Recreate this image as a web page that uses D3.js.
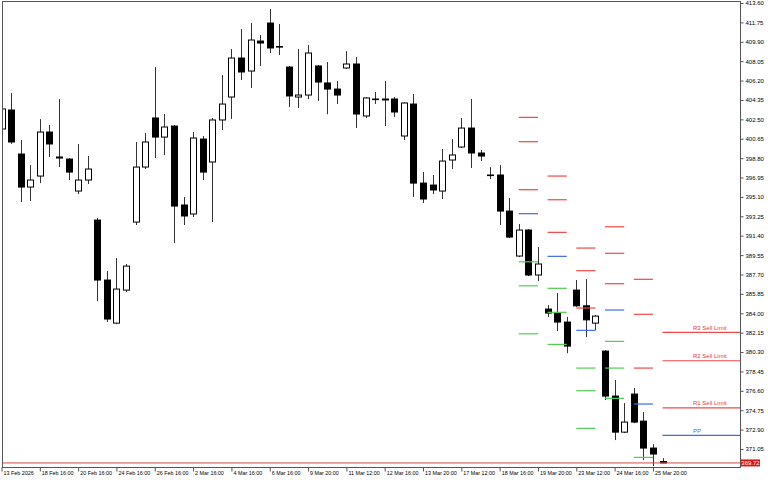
<!DOCTYPE html>
<html>
<head>
<meta charset="utf-8">
<script src="https://d3js.org/d3.v7.min.js"></script>
<style>
  body { margin: 0; background: #fff; }
  svg { display: block; }
  text { font-family: "Liberation Sans", Arial, sans-serif; font-size: 6px; }
</style>
</head>
<body>
<svg></svg>
<script>
// H4 candles, oldest first
var opens = [401.58, 403.39, 399.19, 396.04, 397.09, 401.29, 398.91, 398.71, 395.66, 396.71,
  392.89, 387.17, 383.06, 386.21, 392.70, 397.95, 402.63, 400.81, 401.86, 394.33,
  393.47, 400.62, 398.43, 402.44, 404.63, 408.35, 407.11, 409.97, 411.69, 409.45,
  407.49, 404.63, 404.82, 407.59, 405.97, 405.39, 407.40, 407.78, 402.82, 404.44,
  404.44, 404.44, 400.91, 403.96, 396.42, 396.23, 395.66, 398.62, 399.86, 401.67,
  399.29, 397.19, 397.19, 393.75, 389.46, 391.94, 387.65, 384.40, 384.02, 383.16,
  386.21, 384.71, 383.06, 380.39, 376.10, 372.66, 376.29, 373.71, 371.14, 369.85];
var highs = [403.68, 405.01, 400.53, 398.14, 402.53, 401.96, 404.44, 398.80, 400.15, 399.00,
  393.08, 388.03, 389.27, 388.70, 400.34, 401.20, 407.49, 403.01, 401.96, 395.09,
  401.29, 400.91, 402.63, 406.73, 409.21, 411.12, 411.69, 410.55, 413.03, 411.60,
  407.59, 409.21, 409.59, 407.68, 407.97, 406.16, 409.02, 408.45, 404.63, 405.11,
  406.16, 404.63, 404.15, 404.92, 397.47, 397.19, 399.67, 400.62, 402.63, 404.44,
  399.57, 397.95, 398.14, 394.99, 392.51, 392.03, 390.32, 384.78, 385.93, 383.64,
  387.17, 387.26, 383.83, 380.49, 377.63, 375.43, 376.86, 374.57, 371.52, 370.18];
var lows = [401.39, 400.15, 394.61, 394.71, 396.42, 398.91, 397.95, 396.71, 395.37, 396.33,
  385.16, 383.16, 382.96, 386.02, 392.42, 397.76, 398.81, 399.10, 390.70, 392.42,
  393.18, 396.71, 392.70, 401.48, 402.53, 406.25, 405.49, 407.59, 408.83, 408.64,
  403.68, 403.58, 404.44, 404.25, 402.99, 403.96, 407.30, 401.67, 402.63, 403.96,
  401.86, 402.72, 400.53, 395.09, 394.52, 395.37, 394.90, 397.76, 399.76, 397.86,
  398.52, 396.81, 392.42, 391.18, 389.36, 387.55, 387.07, 383.64, 382.30, 380.20,
  384.61, 381.73, 382.39, 375.72, 371.90, 372.57, 373.52, 369.99, 369.42, 369.70];
var closes = [403.49, 400.34, 396.04, 396.71, 401.29, 400.15, 398.81, 397.47, 396.71, 397.76,
  387.17, 383.45, 386.31, 388.50, 397.95, 400.34, 400.81, 401.77, 394.23, 393.28,
  400.72, 397.47, 402.44, 403.96, 408.35, 407.02, 410.07, 409.78, 409.31, 409.40,
  404.73, 404.82, 408.83, 406.06, 405.39, 404.82, 407.78, 403.01, 404.54, 404.40,
  404.35, 403.20, 404.06, 396.42, 394.90, 395.76, 398.52, 399.10, 401.67, 399.29,
  399.00, 397.14, 393.75, 391.27, 391.94, 387.65, 388.70, 384.02, 383.16, 380.87,
  384.71, 383.37, 383.73, 376.10, 372.66, 373.62, 373.62, 371.14, 370.57, 369.72];

var timeLabels = ["13 Feb 2026", "18 Feb 16:00", "20 Feb 16:00", "24 Feb 16:00", "26 Feb 16:00",
  "2 Mar 16:00", "4 Mar 16:00", "6 Mar 16:00", "9 Mar 20:00", "11 Mar 12:00", "12 Mar 16:00",
  "13 Mar 20:00", "17 Mar 12:00", "18 Mar 16:00", "19 Mar 20:00", "23 Mar 12:00",
  "24 Mar 16:00", "25 Mar 20:00"];
var labelEvery = 4;

var priceTicks = [413.60, 411.75, 409.90, 408.05, 406.20, 404.35, 402.50, 400.65, 398.80,
  396.95, 395.10, 393.25, 391.40, 389.55, 387.70, 385.85, 384.00, 382.15, 380.30, 378.45,
  376.60, 374.75, 372.90, 371.05];
var lastPrice = 369.72;

// daily pivots: first bar of each day and its levels (null = off the chart)
var pivotStart = [54, 57, 60, 63, 66, 69];
var pivotR3 = [402.69, 397.09, 390.22, 392.25, 387.24, 382.18];
var pivotR2 = [400.37, 394.83, 388.06, 389.72, 383.90, 379.47];
var pivotR1 = [395.79, 391.72, 384.50, 386.82, 378.77, 374.98];
var pivotPP = [393.50, 389.43, 382.37, 384.31, 375.34, 372.35];
var pivotS1 = [388.91, 386.38, 378.77, 381.32, 370.25, null];
var pivotS2 = [386.62, 384.09, 376.61, 378.77, null, null];
var pivotS3 = [382.04, 381.03, 373.02, 375.88, null, null];
var currentLabels = ["R3 Sell Limit", "R2 Sell Limit", "R1 Sell Limit", "PP"];

var width = 768, height = 480;
var plotL = 2, plotR = 740, plotT = 1, plotB = 467;
var barStep = 9.58, bodyW = 6;

var svg = d3.select('svg').attr('width', width).attr('height', height);

var y = d3.scaleLinear().domain([369.333, 413.791]).range([plotB, plotT]);
var x = d3.scaleLinear().domain([0, 1]).range([1.5, 1.5 + barStep]);

svg.append('clipPath').attr('id', 'plot')
  .append('rect').attr('x', plotL).attr('y', plotT).attr('width', plotR - plotL).attr('height', plotB - plotT);

var plot = svg.append('g').attr('clip-path', 'url(#plot)');

var bars = d3.range(opens.length);

// wicks
plot.selectAll('line.wick').data(bars).enter().append('line')
  .attr('class', 'wick')
  .attr('x1', function (i) { return Math.round(x(i)) + 0.5; })
  .attr('x2', function (i) { return Math.round(x(i)) + 0.5; })
  .attr('y1', function (i) { return y(highs[i]); })
  .attr('y2', function (i) { return y(lows[i]); })
  .attr('stroke', '#333').attr('stroke-width', 1);

// bodies
plot.selectAll('rect.body').data(bars).enter().append('rect')
  .attr('class', 'body')
  .attr('x', function (i) { return Math.round(x(i)) - bodyW / 2 + 0.5; })
  .attr('width', bodyW)
  .attr('y', function (i) { return y(Math.max(opens[i], closes[i])); })
  .attr('height', function (i) { return Math.max(0.6, Math.abs(y(opens[i]) - y(closes[i]))); })
  .attr('fill', function (i) { return closes[i] >= opens[i] ? '#fff' : '#000'; })
  .attr('stroke', '#000').attr('stroke-width', 1);

// pivot segments
var levelSets = [
  { vals: pivotR3, color: '#f04848' },
  { vals: pivotR2, color: '#f04848' },
  { vals: pivotR1, color: '#f04848' },
  { vals: pivotPP, color: '#3c6ee0' },
  { vals: pivotS1, color: '#52cc52' },
  { vals: pivotS2, color: '#52cc52' },
  { vals: pivotS3, color: '#52cc52' }
];
var segs = [];
levelSets.forEach(function (s) {
  s.vals.forEach(function (v, k) {
    if (v === null) return;
    var x1 = x(pivotStart[k]);
    var x2 = k === pivotStart.length - 1 ? plotR : x(pivotStart[k] + 2);
    segs.push({ v: v, x1: x1, x2: x2, color: s.color });
  });
});
plot.selectAll('line.pivot').data(segs).enter().append('line')
  .attr('class', 'pivot')
  .attr('x1', function (d) { return d.x1; })
  .attr('x2', function (d) { return d.x2; })
  .attr('y1', function (d) { return y(d.v); })
  .attr('y2', function (d) { return y(d.v); })
  .attr('stroke', function (d) { return d.color; })
  .attr('stroke-width', 1.2);

// labels on today's levels
var cur = pivotStart.length - 1;
var curVals = [pivotR3[cur], pivotR2[cur], pivotR1[cur], pivotPP[cur]];
plot.selectAll('text.plab').data(currentLabels).enter().append('text')
  .attr('class', 'plab')
  .attr('x', 693)
  .attr('y', function (d, i) { return y(curVals[i]) - 2.5; })
  .attr('fill', function (d, i) { return i < 3 ? '#e83838' : '#3c6ee0'; })
  .text(function (d) { return d; });

// last price line
plot.append('line')
  .attr('x1', plotL).attr('x2', plotR)
  .attr('y1', y(lastPrice)).attr('y2', y(lastPrice))
  .attr('stroke', '#d84848').attr('stroke-width', 1);

// frame
svg.append('rect')
  .attr('x', plotL + 0.5).attr('y', plotT + 0.5)
  .attr('width', plotR - plotL).attr('height', plotB - plotT)
  .attr('fill', 'none').attr('stroke', '#555').attr('stroke-width', 1);

// price axis
var yAxis = d3.axisRight(y).tickValues(priceTicks).tickSize(3).tickSizeOuter(0)
  .tickFormat(d3.format('.2f'));
var ya = svg.append('g').attr('transform', 'translate(' + (plotR + 0.5) + ',0)').call(yAxis);
ya.select('.domain').remove();
ya.selectAll('line').attr('stroke', '#555');
ya.selectAll('text').attr('x', 5).attr('fill', '#000').style('font-size', '6px')
  .style('font-family', '"Liberation Sans", Arial, sans-serif');

// last price tag
svg.append('rect').attr('x', 741).attr('y', y(lastPrice) - 3.5).attr('width', 19).attr('height', 7)
  .attr('fill', '#e01010');
svg.append('text').attr('x', 750.5).attr('y', y(lastPrice) + 2)
  .attr('text-anchor', 'middle').attr('fill', '#fff').text(d3.format('.2f')(lastPrice));

// time axis
var labelBars = timeLabels.map(function (d, i) { return i * labelEvery; });
var xAxis = d3.axisBottom(x).tickValues(labelBars).tickSize(4).tickSizeOuter(0)
  .tickFormat(function (d, i) { return timeLabels[i]; });
var xa = svg.append('g').attr('transform', 'translate(0,' + (plotB + 0.5) + ')').call(xAxis);
xa.select('.domain').remove();
xa.selectAll('line').attr('stroke', '#555');
xa.selectAll('text').attr('text-anchor', 'start').attr('x', 1.5).attr('y', 4).attr('dy', '0.71em')
  .attr('fill', '#000').style('font-size', '5.4px')
  .style('font-family', '"Liberation Sans", Arial, sans-serif');
</script>
</body>
</html>
